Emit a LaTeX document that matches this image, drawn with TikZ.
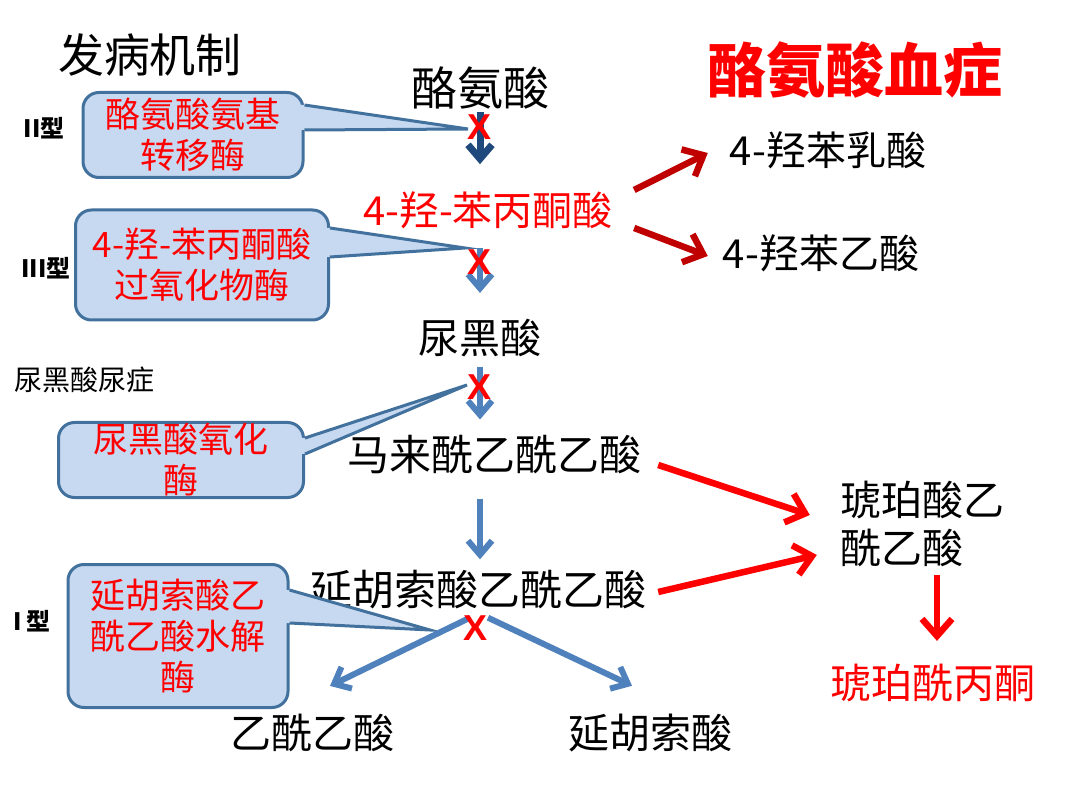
\documentclass[tikz,border=0pt]{standalone}
\usepackage{fontspec}
\setmainfont{Noto Sans CJK SC}
\newfontfamily\latinfont{Liberation Sans}
\usetikzlibrary{arrows.meta,positioning,calc}
\definecolor{calloutbg}{HTML}{C6D9F1}
\definecolor{calloutrim}{HTML}{41719C}
\definecolor{enzred}{HTML}{FF0000}
\definecolor{darkred}{HTML}{C00000}
\definecolor{navy}{HTML}{1F497D}
\definecolor{steel}{HTML}{4F81BD}

\begin{document}
\begin{tikzpicture}[
  x=1pt, y=-1pt,
  chem/.style={inner sep=0pt, font=\fontsize{41}{48}\selectfont, align=center},
  enzyme/.style={draw=calloutrim, fill=calloutbg, line width=3pt, rounded corners=16pt, align=center, text=enzred, font=\fontsize{35}{41}\selectfont, inner sep=0pt},
  wedge/.style={draw=calloutrim, line width=3pt, line join=miter},
  tag/.style={inner sep=0pt, font=\bfseries\fontsize{24}{28}\selectfont},
  halt/.style={inner sep=0pt, text=enzred, font=\latinfont\bfseries\fontsize{36}{38}\selectfont},
  flow/.style={-{Straight Barb[length=14pt,width=24pt]}, line width=6pt, color=steel},
  side/.style={-{Straight Barb[length=17pt,width=30pt]}, line width=6.5pt}
]
\fill[white] (0,0) rectangle (1080,810);
\useasboundingbox (0,0) rectangle (1080,810);

% headings
\node[chem, font=\fontsize{46}{50}\selectfont] (head) at (150,55) {发病机制};
\node[chem, text=enzred, font=\bfseries\fontsize{59}{62}\selectfont] (dis) at (855,70) {酪氨酸血症};

% main pathway
\node[chem, font=\fontsize{46}{50}\selectfont] (tyr) at (480,88) {酪氨酸};
\node[chem, text=enzred, font=\fontsize{40}{44}\selectfont] (hpp) at (488,210) {4-羟-苯丙酮酸};
\node[chem, font=\fontsize{40}{44}\selectfont] (hpl) at (828,150) {4-羟苯乳酸};
\node[chem, font=\fontsize{40}{44}\selectfont] (hpa) at (821,253) {4-羟苯乙酸};
\node[chem] (hga) at (480,338) {尿黑酸};
\node[chem, font=\fontsize{42}{48}\selectfont] (mal) at (494,455) {马来酰乙酰乙酸};
\node[chem, font=\fontsize{42}{48}\selectfont] (fum) at (478,590) {延胡索酸乙酰乙酸};
\node[chem, align=left] (sa) at (922,524) {琥珀酸乙\\酰乙酸};
\node[chem, text=enzred] (sap) at (933,683) {琥珀酰丙酮};
\node[chem] (aa) at (312,733) {乙酰乙酸};
\node[chem] (fa) at (650,733) {延胡索酸};

% types
\node[tag] (t2) at (44,128) {II型};
\node[tag] (t3) at (46,268) {III型};
\node[tag, font=\fontsize{28}{30}\selectfont] (t4) at (85,380) {尿黑酸尿症};
\node[tag] (t1) at (32,621) {I 型};

% enzymes
\node[enzyme, minimum width=220pt, minimum height=85pt] (c1) at (193,135) {酪氨酸氨基\\转移酶};
\node[enzyme, minimum width=253pt, minimum height=110pt] (c2) at (202,265) {4-羟-苯丙酮酸\\过氧化物酶};
\node[enzyme, minimum width=245pt, minimum height=75pt] (c3) at (181,460) {尿黑酸氧化\\酶};
\node[enzyme, minimum width=220pt, minimum height=143pt] (c4) at (178,636) {延胡索酸乙\\酰乙酸水解\\酶};
\coordinate (p1) at (468,129);
\coordinate (p2) at (465,248);
\coordinate (p3) at (467,385);
\coordinate (p4) at (430,630);
\fill[calloutbg] ($(c1.east)+(-4,-30)$) -- ($(c1.east)+(0,-30)$) -- (p1) -- ($(c1.east)+(0,-5)$) -- ($(c1.east)+(-4,-5)$) -- cycle;
\draw[wedge] ($(c1.east)+(0,-30)$) -- (p1) -- ($(c1.east)+(0,-5)$);
\fill[calloutbg] ($(c2.east)+(-4,-37)$) -- ($(c2.east)+(0,-37)$) -- (p2) -- ($(c2.east)+(0,-8)$) -- ($(c2.east)+(-4,-8)$) -- cycle;
\draw[wedge] ($(c2.east)+(0,-37)$) -- (p2) -- ($(c2.east)+(0,-8)$);
\fill[calloutbg] ($(c3.east)+(-4,-22)$) -- ($(c3.east)+(0,-22)$) -- (p3) -- ($(c3.east)+(0,-6)$) -- ($(c3.east)+(-4,-6)$) -- cycle;
\draw[wedge] ($(c3.east)+(0,-22)$) -- (p3) -- ($(c3.east)+(0,-6)$);
\fill[calloutbg] ($(c4.east)+(-4,-46)$) -- ($(c4.east)+(0,-46)$) -- (p4) -- ($(c4.east)+(0,-13)$) -- ($(c4.east)+(-4,-13)$) -- cycle;
\draw[wedge] ($(c4.east)+(0,-46)$) -- (p4) -- ($(c4.east)+(0,-13)$);

% arrows
\draw[flow, color=navy, line width=7pt] ([yshift=-3pt]tyr.south) -- ([yshift=27pt]tyr.south |- hpp.north);
\draw[flow] ([yshift=-19pt]hga.north |- hpp.south) -- ([yshift=26pt]hga.north);
\draw[flow] ([yshift=-10pt]hga.south) -- ([yshift=16pt]hga.south |- mal.north);
\draw[flow] ([yshift=-24pt]hga.south |- mal.south) -- ([yshift=11pt]hga.south |- fum.north);
\draw[flow] ([xshift=-8pt,yshift=-8pt]fum.south) -- ([xshift=18pt,yshift=28pt]aa.north);
\draw[flow] ([xshift=10pt,yshift=-8pt]fum.south) -- ([xshift=-18pt,yshift=28pt]fa.north);
\draw[side, darkred] ($(hpp.east)+(21,-20)$) -- ($(hpl.west)+(-22,3)$);
\draw[side, darkred] ($(hpp.east)+(21,18)$) -- ($(hpa.west)+(-15,3)$);
\draw[side, enzred] ($(mal.east)+(17,10)$) -- ($(sa.west)+(-30,-9)$);
\draw[side, enzred] ($(fum.east)+(12,2)$) -- ($(sa.west)+(-23,31)$);
\draw[side, enzred] ($(sa.south)+(15,8)$) -- ($(sap.north)+(4,-23)$);

% blocked steps
\node[halt] (xa) at (480,127) {X};
\node[halt] (xb) at (480,262) {X};
\node[halt] (xc) at (480,387) {X};
\node[halt] (xd) at (476,628) {X};
\end{tikzpicture}
\end{document}
